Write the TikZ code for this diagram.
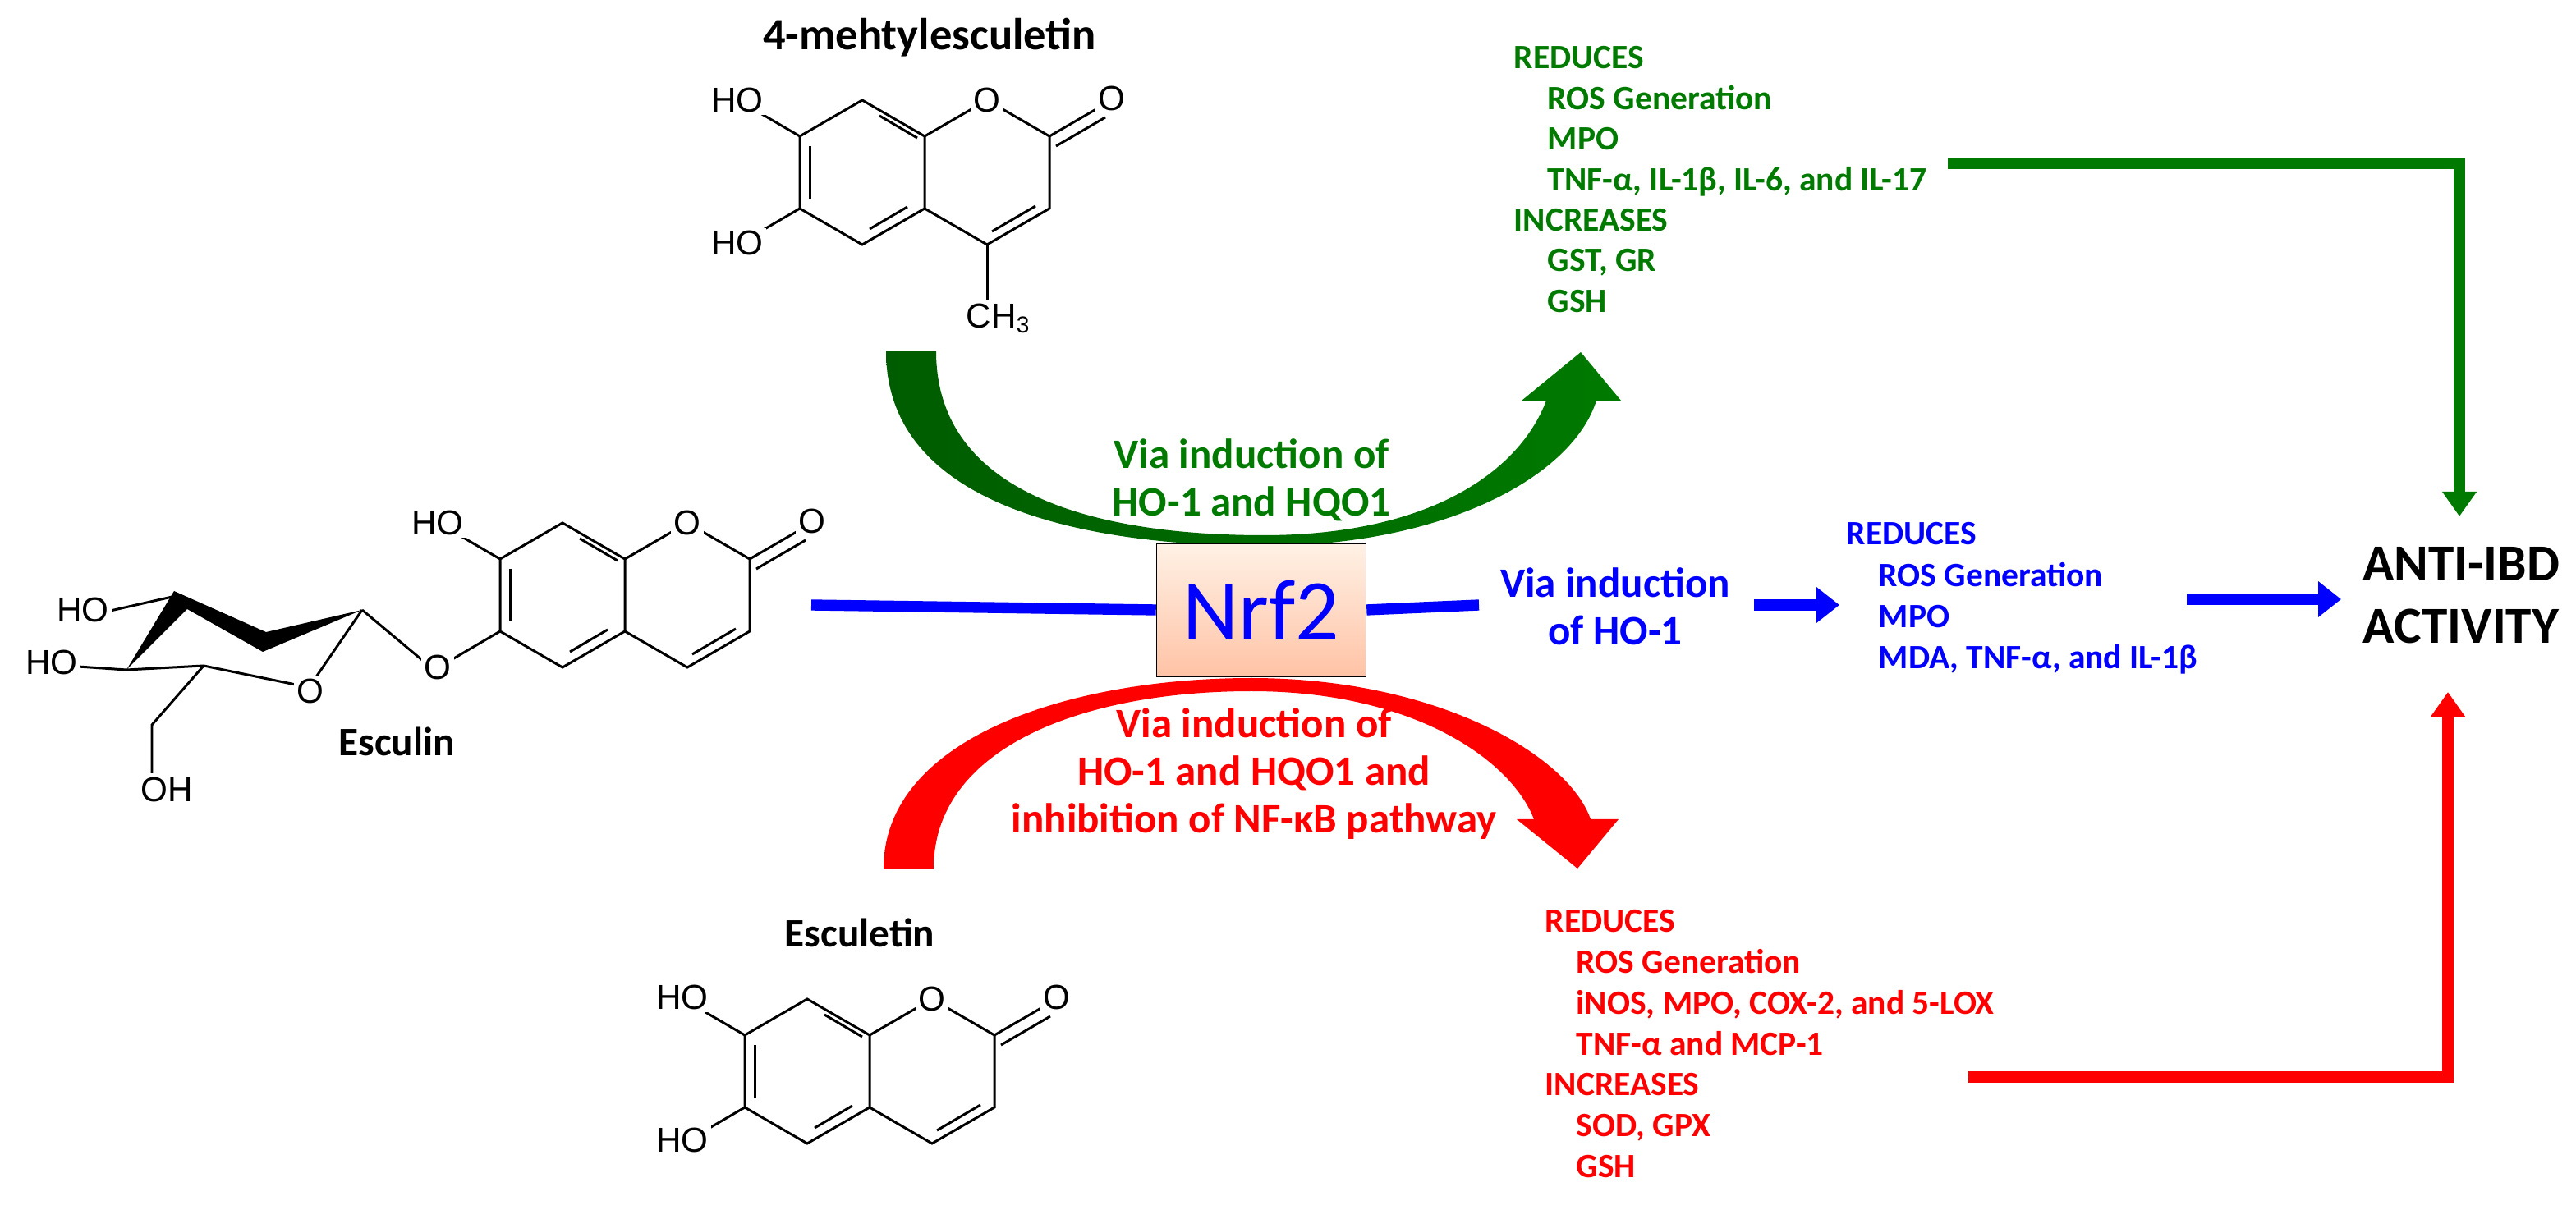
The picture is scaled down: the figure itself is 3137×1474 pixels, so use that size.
\documentclass[tikz,border=0pt]{standalone}
\usepackage{fontspec}
\setmainfont{Carlito}
\newfontfamily\chemfont{Liberation Sans}
\usetikzlibrary{arrows.meta}

\definecolor{mygreen}{HTML}{007A00}
\definecolor{darkgreen}{HTML}{005C00}
\definecolor{myblue}{HTML}{0000FF}
\definecolor{myred}{HTML}{FF0000}

\tikzset{
  bond/.style={line width=0.85pt},
  atom/.style={font=\chemfont\fontsize{12}{12}\selectfont, inner sep=1pt, fill=white},
  title/.style={font=\bfseries\fontsize{14}{16}\selectfont},
  via/.style={font=\bfseries\fontsize{14.5}{16.5}\selectfont, align=center},
  list/.style={font=\bfseries\fontsize{11.8}{13}\selectfont, anchor=base west, inner sep=0pt},
  fat/.style={line width=4pt},
}

% coumarin core, left ring centred at the origin of the scope
\newcommand{\coumarincore}{%
  \draw[bond] (-76,-44) -- (0,-88) -- (76,-44) -- (76,44) -- (0,88) -- (-76,44) -- cycle;
  \draw[bond] (76,-44) -- (152,-88) -- (228,-44) -- (228,44) -- (152,88) -- (76,44);
  \draw[bond] (-64,-32) -- (-64,32);
  \draw[bond] (21,-69) -- (67,-42);
  \draw[bond] (55,42) -- (9,69);
  \draw[bond] (211,41) -- (158,72);
  \draw[bond] (228,-44) -- (290,-80);
  \draw[bond] (236,-32) -- (296,-67);
  \node[atom] (o1) at (152,-88) {O};
  \node[atom] (o2) at (304,-90) {O};
}

\begin{document}
\begin{tikzpicture}[x=0.01cm,y=-0.01cm]
  \useasboundingbox (0,0) rectangle (3137,1474);

  % 4-methylesculetin
  \node[title, font=\bfseries\fontsize{15.5}{16}\selectfont] (t1) at (1132,46) {4-mehtylesculetin};
  \begin{scope}[shift={(1050,210)}]
    \coumarincore
    \draw[bond] (-76,-44) -- (-124,-72);
    \draw[bond] (-76,44) -- (-124,72);
    \draw[bond] (152,88) -- (152,158);
    \node[atom] (h1) at (-152,-88) {HO};
    \node[atom] (h2) at (-152,86) {HO};
    \node[atom] (me) at (166,178) {CH\textsubscript{3}};
  \end{scope}

  % esculin
  \begin{scope}[shift={(685,725)}]
    \coumarincore
    \draw[bond] (-76,-44) -- (-124,-72);
    \draw[bond] (-76,44) -- (-134,78);
    \node[atom] (h3) at (-152,-88) {HO};
  \end{scope}
  \fill (154,816) -- (212,720) -- (324,770) -- (441,743) -- (320,794) -- (228,742) -- cycle;
  \draw[bond] (130,745) -- (214,726);
  \draw[bond] (95,812) -- (154,816) -- (248,811) -- (360,834);
  \draw[bond] (441,743) -- (384,826);
  \draw[bond] (441,743) -- (514,804);
  \draw[bond] (248,811) -- (185,883) -- (185,942);
  \node[atom] (og) at (533,813) {O};
  \node[atom] (or) at (378,842) {O};
  \node[atom] (h4) at (101,743) {HO};
  \node[atom] (h5) at (63,807) {HO};
  \node[atom] (h6) at (203,962) {OH};
  \node[title] (t2) at (483,903) {Esculin};

  % esculetin
  \node[title] (t3) at (1047,1136) {Esculetin};
  \begin{scope}[shift={(983,1305)}]
    \coumarincore
    \draw[bond] (-76,-44) -- (-124,-72);
    \draw[bond] (-76,44) -- (-124,72);
    \node[atom] (h7) at (-152,-90) {HO};
    \node[atom] (h8) at (-152,84) {HO};
  \end{scope}

  % curved arrows
  \shade[left color=darkgreen, right color=mygreen]
    (1079,428) .. controls (1079,620) and (1330,665) .. (1539,665)
    .. controls (1760,665) and (1915,580) .. (1944,488) -- (1974,488) -- (1925,429)
    -- (1853,488) -- (1883,488) .. controls (1850,575) and (1740,652) .. (1539,652)
    .. controls (1330,652) and (1140,600) .. (1140,428) -- cycle;
  \fill[myred]
    (1076,1058) .. controls (1076,900) and (1300,826) .. (1524,826)
    .. controls (1750,826) and (1910,920) .. (1937,998) -- (1971,998) -- (1921,1058)
    -- (1847,998) -- (1868,998) .. controls (1840,925) and (1720,842) .. (1524,842)
    .. controls (1320,842) and (1137,910) .. (1137,1058) -- cycle;

  % Nrf2
  \coordinate (bl) at (988,737);
  \coordinate (br) at (1801,737);
  \node[draw, thin, minimum width=2.55cm, minimum height=1.62cm, top color=red!8!orange!10, bottom color=red!35!orange!35,
        font=\fontsize{30}{30}\selectfont, text=myblue] (nrf) at (1536,743) {Nrf2};
  \draw[myblue, line width=3.8pt] (bl) -- (nrf.west);
  \draw[myblue, line width=3.8pt] (nrf.east) -- (br);

  \node[via, text=mygreen] (vg) at (1524,585) {Via induction of\\HO-1 and HQO1};
  \node[via, text=myblue] (vb) at (1967,739) {Via induction\\of HO-1};
  \node[via, text=myred] (vr) at (1527,943) {Via induction of\\HO-1 and HQO1 and\\inhibition of NF-κB pathway};

  % effect lists
  \foreach \ind/\txt [count=\i] in {0/REDUCES, 1/ROS Generation, 1/MPO, 1/{TNF-α, IL-1β, IL-6, and IL-17},
      0/INCREASES, 1/{GST, GR}, 1/GSH}
    \node[list, text=mygreen] (g\i) at ({1843+\ind*41},{84+(\i-1)*49.4}) {\txt};
  \foreach \ind/\txt [count=\i] in {0/REDUCES, 1/ROS Generation, 1/MPO, 1/{MDA, TNF-α, and IL-1β}}
    \node[list, text=myblue] (b\i) at ({2248+\ind*39},{664+(\i-1)*50.3}) {\txt};
  \foreach \ind/\txt [count=\i] in {0/REDUCES, 1/ROS Generation, 1/{iNOS, MPO, COX-2, and 5-LOX}, 1/{TNF-α and MCP-1},
      0/INCREASES, 1/{SOD, GPX}, 1/GSH}
    \node[list, text=myred] (r\i) at ({1881+\ind*38},{1136+(\i-1)*49.7}) {\txt};

  \node[font=\bfseries\fontsize{18}{21.5}\selectfont, align=center] (anti) at (2997,725) {ANTI-IBD\\ACTIVITY};

  % straight arrows
  \coordinate (b1s) at (2136,737);
  \coordinate (b1e) at (2240,737);
  \coordinate (b2s) at (2663,730);
  \coordinate (b2e) at (2851,730);
  \draw[myblue, fat, -{Triangle[length=0.28cm,width=0.42cm]}] (b1s) -- (b1e);
  \draw[myblue, fat, -{Triangle[length=0.28cm,width=0.42cm]}] (b2s) -- (b2e);

  \coordinate (gs) at (2372,199);
  \coordinate (gc) at (2995,199);
  \coordinate (ge) at (2995,629);
  \draw[mygreen, fat, -{Triangle[length=0.3cm,width=0.4cm]}] (gs) -- (gc) -- (ge);
  \coordinate (rs) at (2397,1312);
  \coordinate (rc) at (2981,1312);
  \coordinate (re) at (2981,843);
  \draw[myred, line width=4.2pt, -{Triangle[length=0.3cm,width=0.4cm]}] (rs) -- (rc) -- (re);
\end{tikzpicture}
\end{document}
